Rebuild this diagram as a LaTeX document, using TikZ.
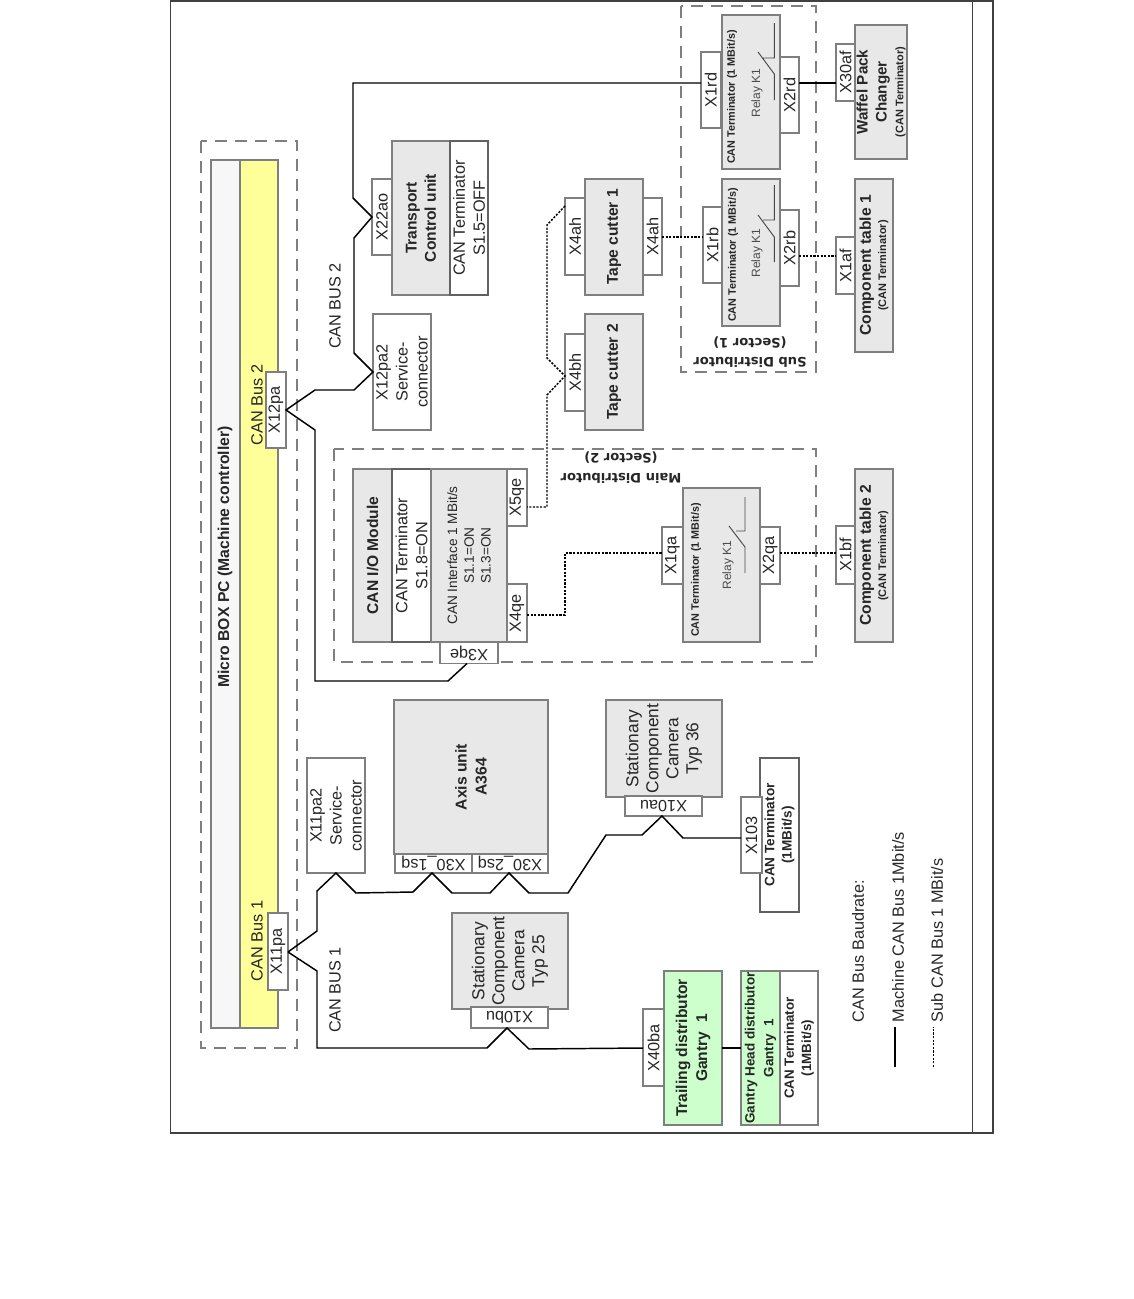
\documentclass[tikz,border=0pt]{standalone}
\usepackage{fontspec}
\setmainfont{Liberation Sans}
\newfontfamily\dvb{DejaVu Sans}
\definecolor{boxgrey}{HTML}{E8E8E8}
\definecolor{edgegrey}{HTML}{7F7F7F}
\definecolor{lightgrey}{HTML}{F7F7F7}
\definecolor{busyellow}{HTML}{FFFF99}
\definecolor{distgreen}{HTML}{CCFFCC}
\definecolor{textgrey}{HTML}{262626}
\newcommand{\fs}[1]{\fontsize{#1}{15}\selectfont}
\newcommand{\bx}[7]{%
 \pgfmathsetmacro{\cxv}{(#3+#5)/2}\pgfmathsetmacro{\cyv}{(#4+#6)/2}%
 \pgfmathsetmacro{\wv}{(#6-#4)*.75}\pgfmathsetmacro{\hv}{(#5-#3)*.75}%
 \node[rotate=90,minimum width=\wv pt,minimum height=\hv pt,#2] (#1) at (\cxv,\cyv) {#7};}
\newcommand{\bxh}[7]{%
 \pgfmathsetmacro{\cxv}{(#3+#5)/2}\pgfmathsetmacro{\cyv}{(#4+#6)/2}%
 \pgfmathsetmacro{\wv}{(#5-#3)*.75}\pgfmathsetmacro{\hv}{(#6-#4)*.75}%
 \node[rotate=180,minimum width=\wv pt,minimum height=\hv pt,#2] (#1) at (\cxv,\cyv) {#7};}
\tikzset{
 base/.style={inner sep=0pt,outer sep=0pt,align=center,text=textgrey,font=\fs{12.2}},
 greybox/.style={base,draw=edgegrey,line width=1.1pt,fill=boxgrey},
 whitebox/.style={base,draw=edgegrey,line width=1.1pt,fill=white},
 darkbox/.style={base,draw=black!62,line width=1.1pt,fill=white},
 conn/.style={base,draw=edgegrey,line width=1.1pt,fill=white},
 connh/.style={conn},
 greenbox/.style={base,draw=edgegrey,line width=1.1pt,fill=distgreen},
 dashbox/.style={base,draw=edgegrey,line width=.9pt,dash pattern=on 9pt off 6pt},
 lbl/.style={base,rotate=90},
 lblh/.style={base,rotate=180,font=\dvb\bfseries\fs{9.8}},
 bold/.style={font=\bfseries\fontsize{11.7}{14.4}\selectfont},
 wire/.style={draw=black,line width=1.1pt,line join=miter},
 subwire/.style={draw=black,line width=1.1pt,dash pattern=on 1.6pt off 1.1pt},
 relay/.style={draw=black!72,line width=.7pt},
 relaytxt/.style={lbl,font=\fs{9},text=black!70},
 termtxt/.style={lbl,font=\bfseries\fs{8.1}},
}
\begin{document}
\begin{tikzpicture}[x=.75pt,y=-.75pt]
\useasboundingbox (0,0) rectangle (1134,1299);
\fill[white] (0,0) rectangle (1134,1299);
% outer frame
\draw[black!75,line width=.8pt] (170.5,1) rectangle (993,1133);
\draw[black!75,line width=.8pt] (972.5,1) -- (972.5,1133);
% dashed groups
\bx{microgroup}{dashbox}{201}{141}{297}{1048}{}
\bx{subgroup}{dashbox}{681}{6}{816}{372}{}
\bx{maingroup}{dashbox}{334}{449}{816}{662}{}
% micro box
\bx{micro}{base,draw=edgegrey,line width=1.1pt,fill=lightgrey}{211}{160}{240}{1028}{}
\node[lbl,font=\bfseries\fs{11.8}] (microtitle) at (225,557) {Micro BOX PC (Machine controller)};
\bx{bus}{base,draw=edgegrey,line width=1.1pt,fill=busyellow}{240}{160}{278}{1028}{}
\node[lbl] (bus2txt) at (257,405) {CAN Bus 2};
\node[lbl] (bus1txt) at (257,941) {CAN Bus 1};
\bx{X12pa}{conn}{266}{372}{286}{448}{X12pa}
\bx{X11pa}{conn}{268}{913}{288}{990}{X11pa}
\node[lbl] (canbustwo) at (335,306) {CAN BUS 2};
\node[lbl] (canbusone) at (335,990) {CAN BUS 1};
% transport
\bx{transport}{greybox,bold}{392}{141}{450}{295}{Transport\\Control unit}
\bx{transportterm}{darkbox}{450}{141}{488}{295}{CAN Terminator\\S1.5=OFF}
\bx{X22ao}{conn}{372}{179}{392}{255}{X22ao}
\bx{X12pa2}{conn}{373}{314}{431}{430}{X12pa2\\Service-\\connector}
% relay terminators
\bx{relayd}{greybox}{722}{15}{780}{169}{}
\bx{X1rd}{conn}{701}{52}{720.5}{128}{X1rd}
\bx{X2rd}{conn}{780}{57}{799}{133}{X2rd}
\node[termtxt] (termd) at (732,97) {CAN Terminator (1 MBit/s)};
\node[relaytxt] (relaydt) at (757,93) {Relay K1};
\draw[relay] (774.3,23) -- (774.3,58) -- (763,58) (758,52) -- (774.3,74) -- (774.3,100);
\bx{relayb}{greybox}{722}{179}{780}{326}{}
\bx{X1rb}{conn}{703}{207}{722}{283}{X1rb}
\bx{X2rb}{conn}{780}{210}{799}{286}{X2rb}
\node[termtxt] (termb) at (733,255) {CAN Terminator (1 MBit/s)};
\node[relaytxt] (relaybt) at (757,253) {Relay K1};
\draw[relay] (774.3,185) -- (774.3,220) -- (763,220) (758,215) -- (774.3,237) -- (774.3,262);
\bx{relayq}{greybox}{683}{488}{760}{642}{}
\bx{X1qa}{conn}{662}{527}{683}{584}{X1qa}
\bx{X2qa}{conn}{760}{527}{780}{584}{X2qa}
\node[termtxt] (termq) at (696,570) {CAN Terminator (1 MBit/s)};
\node[relaytxt] (relayqt) at (728,565) {Relay K1};
\draw[relay] (745,497) -- (745,531) -- (736,531) (729,526) -- (745,547) -- (745,573);
\node[lblh] (subdist) at (750,362) {Sub Distributor};
\node[lblh] (subsec) at (750,343) {(Sector 1)};
\node[lblh] (maindist) at (621,478) {Main Distributor};
\node[lblh] (mainsec) at (621,458) {(Sector 2)};
% right column
\bx{waffel}{greybox,bold,font=\bfseries\fontsize{11.4}{14.4}\selectfont}{855}{25}{907}{159}{Waffel Pack\\Changer\\[-2pt]{\fs{8.2}(CAN Terminator)}}
\bx{X30af}{conn}{836}{44}{855}{101}{X30af}
\bx{ctable}{greybox,bold}{855}{179}{893}{352}{Component table 1\\[-3pt]{\fs{8.2}(CAN Terminator)}}
\bx{X1af}{conn}{836}{237}{855}{294}{X1af}
\bx{ctabletwo}{greybox,bold}{855}{469}{893}{642}{Component table 2\\[-3pt]{\fs{8.2}(CAN Terminator)}}
\bx{X1bf}{conn}{836}{526}{855}{584}{X1bf}
% tape cutters
\bx{cutterone}{greybox,bold}{585}{179}{643}{295}{Tape cutter 1}
\bx{X4ahl}{conn}{565}{198}{585}{275}{X4ah}
\bx{X4ahr}{conn}{643}{198}{662}{275}{X4ah}
\bx{cuttertwo}{greybox,bold}{585}{314}{643}{430}{Tape cutter 2}
\bx{X4bh}{conn}{565}{334}{585}{411}{X4bh}
% CAN I/O module
\bx{iohead}{greybox,bold}{353}{469}{392}{642}{CAN I/O Module}
\bx{ioterm}{darkbox}{392}{469}{431}{642}{CAN Terminator\\S1.8=ON}
\bx{iocan}{greybox,font=\fs{10.2}}{431}{469}{507}{642}{CAN Interface 1 MBit/s\\[-2.5pt]S1.1=ON\\[-2.5pt]S1.3=ON}
\bx{X5qe}{conn}{507}{469}{527}{526}{X5qe}
\bx{X4qe}{conn}{507}{584}{527}{642}{X4qe}
\bxh{X3qe}{connh}{440}{642.5}{498}{663.5}{X3qe}
% axis unit
\bx{axis}{greybox,bold,font=\bfseries\fs{11.8}}{394}{700}{548}{854}{Axis unit\\A364}
\bxh{Xonesq}{connh}{395}{854}{472}{873}{X30\_1sq}
\bxh{Xtwosq}{connh}{472}{854}{548}{873}{X30\_2sq}
\bx{X11pa2}{conn}{307}{758}{365}{873}{X11pa2\\Service-\\connector}
\bx{camtf}{greybox,font=\fs{13}}{452}{913}{568}{1009}{Stationary\\Component\\Camera\\Typ 25}
\bxh{X10bu}{connh}{471}{1007}{548}{1028}{X10bu}
\bx{camts}{greybox,font=\fs{13}}{606}{700}{722}{797}{Stationary\\Component\\Camera\\Typ 36}
\bxh{X10au}{connh}{625}{796}{702}{816}{X10au}
\bx{termbox}{darkbox,font=\bfseries\fs{10.2}}{760}{758}{799}{912}{CAN Terminator\\[-2pt](1MBit/s)}
\bx{X103}{conn}{741}{797}{762}{873}{X103}
% gantry
\bx{trailing}{greenbox,font=\bfseries\fs{11.7}}{664}{971}{722}{1125}{Trailing distributor\\Gantry~~1}
\bx{X40ba}{conn}{643}{1009}{664}{1086}{X40ba}
\bx{gantry}{greenbox,font=\bfseries\fs{10.1}}{741}{971}{780}{1125}{Gantry Head distributor\\[-1pt]Gantry~~1}
\bx{gantryterm}{whitebox,font=\bfseries\fs{10}}{780}{971}{818}{1125}{CAN Terminator\\[-2pt](1MBit/s)}
% legend
\node[lbl,anchor=west] (legtitle) at (858,1022) {CAN Bus Baudrate:};
\node[lbl,anchor=west] (legmachine) at (898,1022) {Machine CAN Bus 1Mbit/s};
\node[lbl,anchor=west] (legsub) at (937,1022) {Sub CAN Bus 1 MBit/s};
\coordinate (lma) at (895,1067); \coordinate (lmb) at (895,1027);
\coordinate (lsa) at (933.5,1067); \coordinate (lsb) at (933.5,1027);
\draw[wire] (lma) -- (lmb);
\draw[subwire] (lsa) -- (lsb);
% machine bus wires
\coordinate (topw) at (353,83);
\coordinate (t12) at (286,410);
\coordinate (t11) at (288,952);
\coordinate (j217) at (373,217);
\coordinate (j372) at (373,372);
\draw[wire] (X1rd.north |- topw) -- (topw) -- (353,198) -- (X22ao.north |- j217) -- (354,238) -- (354,353) -- (X12pa2.north |- j372) -- (354,390) -- (315,390) -- (X12pa.south |- t12) -- (315,430) -- (315,681) -- (448,681) -- (X3qe.north -| 467,0);
\draw[wire] (X2rd.south |- topw) -- (X30af.north |- topw);
\coordinate (j336) at (336,873.5);
\coordinate (j432) at (432,873.5);
\coordinate (j509) at (509,873.5);
\coordinate (j662) at (662,816.5);
\coordinate (jx103) at (741,838);
\draw[wire] (X11pa.south |- t11) -- (317,931) -- (317,891) -- (X11pa2.west -| j336) -- (356,893) -- (413,892) -- (Xonesq.north -| j432) -- (452,893) -- (490,893) -- (Xtwosq.north -| j509) -- (529,893) -- (568,893) -- (606,835) -- (642,835) -- (X10au.north -| j662) -- (683,838) -- (X103.north |- jx103);
\coordinate (j507) at (507,1028);
\coordinate (jb) at (643,1048);
\draw[wire] (X11pa.south |- t11) -- (317,971) -- (317,1048) -- (487,1048) -- (X10bu.north -| j507) -- (529,1049) -- (X40ba.north |- jb);
\draw[wire] (trailing.south |- jb) -- (gantry.north |- jb);
% sub bus wires
\coordinate (jah) at (566,206);
\coordinate (jbh) at (565,376);
\coordinate (j5qe) at (527,507);
\coordinate (j4qe) at (527,615);
\coordinate (jqa) at (662,553);
\coordinate (jrb) at (662,237);
\coordinate (j2rb) at (800,256);
\draw[subwire] (X4ahl.north |- jah) -- (547,225) -- (547,358) -- (X4bh.north |- jbh) -- (547,395) -- (547,507) -- (X5qe.south |- j5qe);
\draw[subwire] (X4qe.south |- j4qe) -- (565,615) -- (565,553) -- (X1qa.north |- jqa);
\draw[subwire] (X2qa.south |- jqa) -- (X1bf.north |- jqa);
\draw[subwire] (X4ahr.south |- jrb) -- (X1rb.north |- jrb);
\draw[subwire] (X2rb.south |- j2rb) -- (X1af.north |- j2rb);
\end{tikzpicture}
\end{document}
